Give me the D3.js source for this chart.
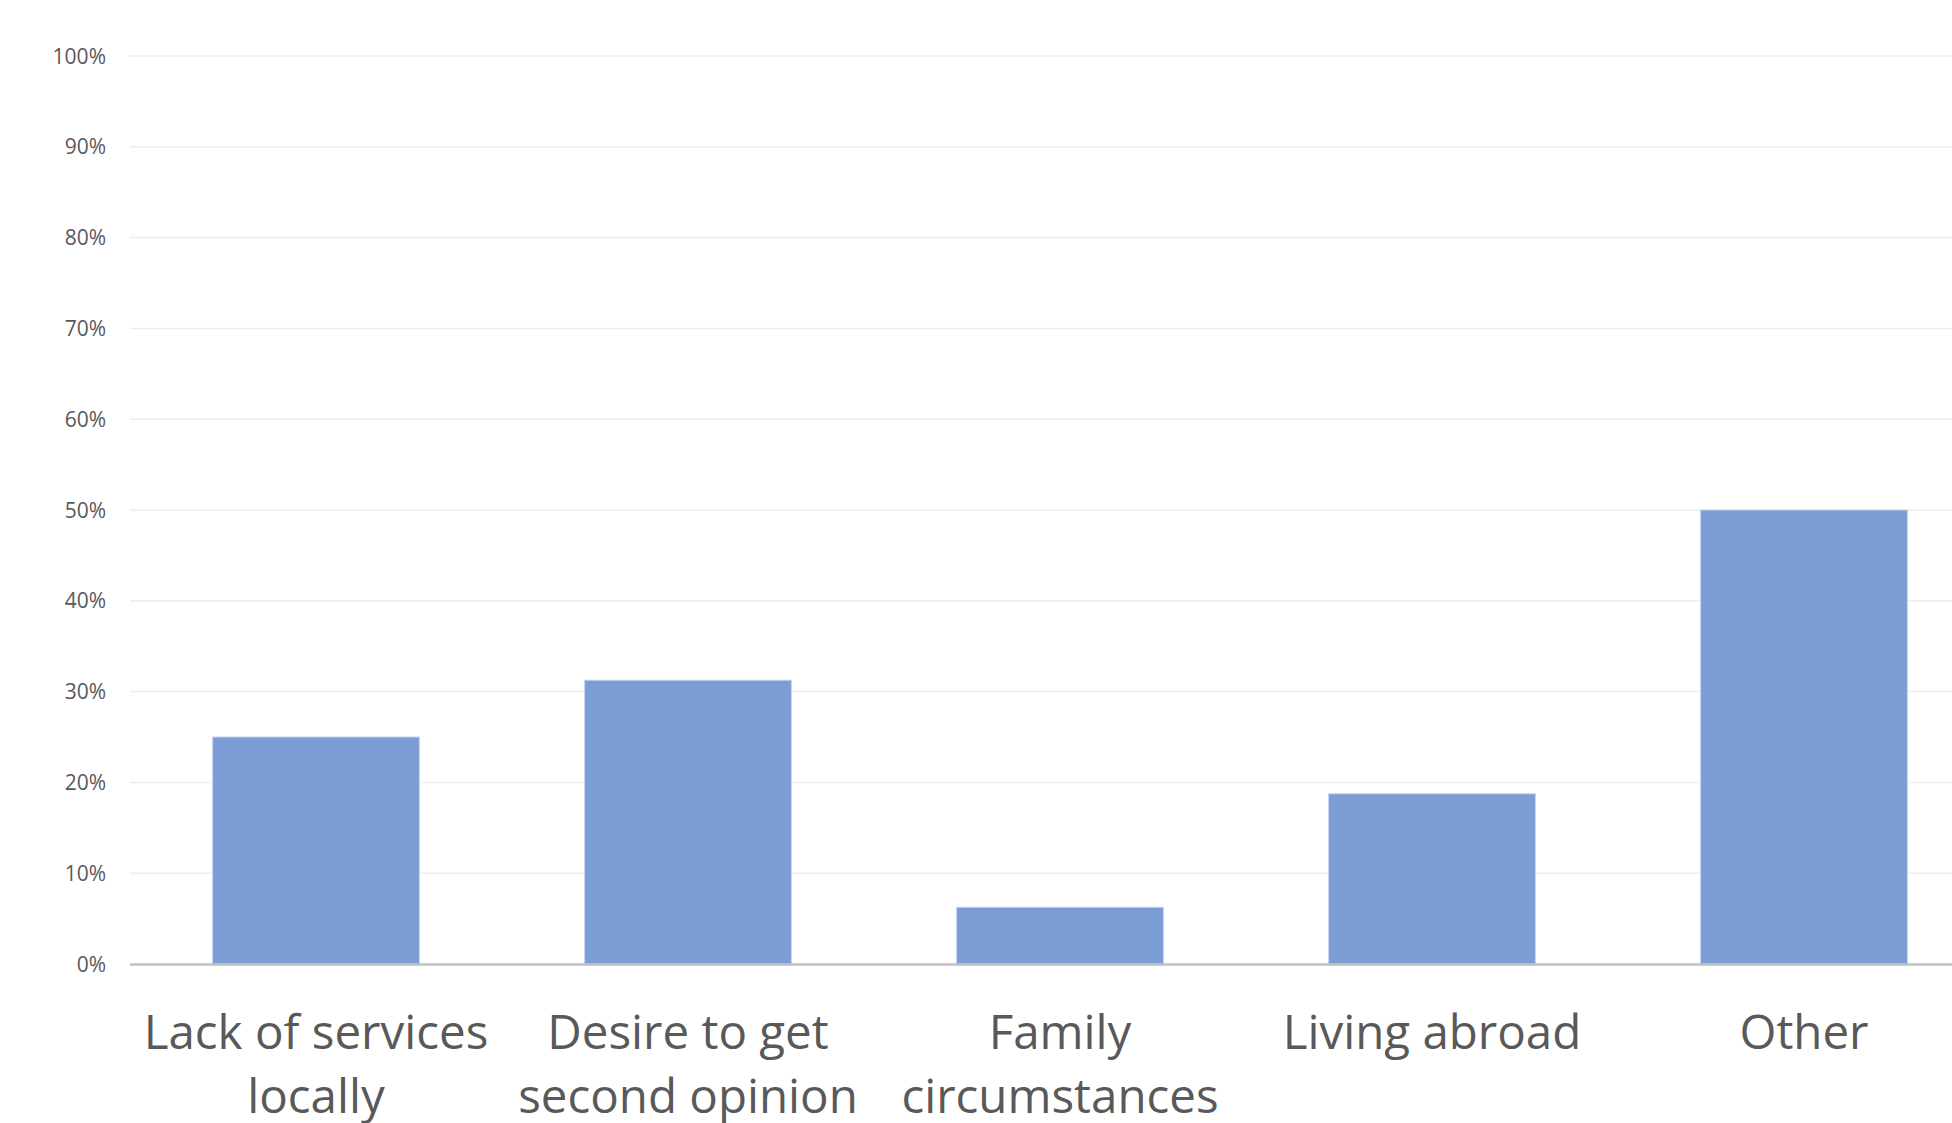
<!DOCTYPE html>
<html>
<head>
<meta charset="utf-8">
<script src="https://cdn.jsdelivr.net/npm/d3@7/dist/d3.min.js"></script>
<style>
  html, body { margin: 0; padding: 0; background: #ffffff; }
  svg { display: block; }
</style>
</head>
<body>
<svg id="chart" width="1952" height="1123"></svg>
<script>
const categories = [
  ["Lack of services", "locally"],
  ["Desire to get", "second opinion"],
  ["Family", "circumstances"],
  ["Living abroad"],
  ["Other"]
];
const values = [0.25, 0.3125, 0.0625, 0.1875, 0.50];
const yTicks = [0, 0.1, 0.2, 0.3, 0.4, 0.5, 0.6, 0.7, 0.8, 0.9, 1.0];

(function () {
const svg = d3.select("#chart");
const W = 1952, H = 1123;
const mLeft = 130, mRight = 1990, mTop = 56, mBottom = 964;

const x = d3.scaleBand()
  .domain(d3.range(categories.length))
  .range([mLeft, mRight])
  .paddingInner(0.4444)
  .paddingOuter(0.2222);

const y = d3.scaleLinear().domain([0, 1]).range([mBottom, mTop]);

// gridlines
svg.append("g")
  .selectAll("line")
  .data(yTicks.filter(d => d > 0))
  .join("line")
  .attr("x1", mLeft).attr("x2", W)
  .attr("y1", d => y(d)).attr("y2", d => y(d))
  .attr("stroke", "#ededed")
  .attr("stroke-width", 1.5);

// y tick labels
svg.append("g")
  .selectAll("text")
  .data(yTicks)
  .join("text")
  .attr("x", 106)
  .attr("y", d => y(d))
  .attr("dy", "0.36em")
  .attr("text-anchor", "end")
  .attr("font-family", "'Open Sans', sans-serif")
  .attr("font-size", 21)
  .attr("fill", "#595959")
  .text(d => d3.format(".0%")(d));

// bars
svg.append("g")
  .selectAll("rect")
  .data(values)
  .join("rect")
  .attr("x", (d, i) => x(i))
  .attr("width", x.bandwidth())
  .attr("y", d => y(d))
  .attr("height", d => y(0) - y(d))
  .attr("fill", "#7b9cd5")
  .attr("stroke", "#c3d2ee")
  .attr("stroke-width", 1);

// x axis line
svg.append("line")
  .attr("x1", mLeft).attr("x2", W)
  .attr("y1", mBottom + 0.5).attr("y2", mBottom + 0.5)
  .attr("stroke", "#bfbfbf")
  .attr("stroke-width", 2.5);

// category labels
const lab = svg.append("g")
  .selectAll("text")
  .data(categories)
  .join("text")
  .attr("x", (d, i) => x(i) + x.bandwidth() / 2)
  .attr("y", 1049)
  .attr("text-anchor", "middle")
  .attr("font-family", "'Open Sans', sans-serif")
  .attr("font-size", 47.5)
  .attr("fill", "#595959");
lab.selectAll("tspan")
  .data(d => d)
  .join("tspan")
  .attr("x", function() { return d3.select(this.parentNode).attr("x"); })
  .attr("dy", (d, i) => i === 0 ? 0 : 64)
  .text(d => d);
})();
</script>
</body>
</html>
